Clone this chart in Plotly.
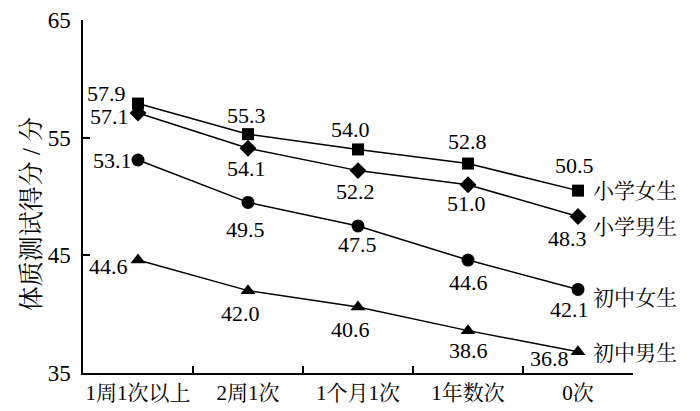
import plotly.graph_objects as go

categories = ["1周1次以上", "2周1次", "1个月1次", "1年数次", "0次"]
primary_girls = [57.9, 55.3, 54.0, 52.8, 50.5]
primary_boys = [57.1, 54.1, 52.2, 51.0, 48.3]
junior_girls = [53.1, 49.5, 47.5, 44.6, 42.1]
junior_boys = [44.6, 42.0, 40.6, 38.6, 36.8]
series_names = ["小学女生", "小学男生", "初中女生", "初中男生"]
y_ticks = [35, 45, 55, 65]
y_title = "体质测试得分 / 分"

FONT = "Liberation Serif, Tinos, Times New Roman, Noto Serif CJK SC, Noto Sans CJK SC, serif"

# label offsets in pixels (dx, dy; dy positive = down)
series = [
    (series_names[0], primary_girls, "square", 12,
     [(-32, -10), (-2, -19), (-8, -20), (-1, -22), (-4, -25)], 0),
    (series_names[1], primary_boys, "diamond", 13,
     [(-29, 4), (-2, 20), (-3, 21), (-2, 19), (-11, 22)], 10),
    (series_names[2], junior_girls, "circle", 13,
     [(-26, 0), (-3, 27), (-1, 19), (0, 22), (-9, 20)], 9),
    (series_names[3], junior_boys, "triangle-up", 13,
     [(-30, 6), (-8, 23), (-8, 22), (0, 20), (-29, 7)], 1),
]

fig = go.Figure()
annotations = []
for name, vals, sym, size, offs, name_dy in series:
    fig.add_trace(go.Scatter(
        x=categories, y=vals, mode="lines+markers",
        name=name,
        line=dict(color="black", width=1.5),
        marker=dict(symbol=sym, size=size, color="black"),
        cliponaxis=False,
        showlegend=False,
    ))
    for cat, v, (dx, dy) in zip(categories, vals, offs):
        annotations.append(dict(
            x=cat, y=v, xref="x", yref="y", text=f"{v:.1f}",
            showarrow=False, xanchor="center", yanchor="middle",
            xshift=dx, yshift=-dy,
            font=dict(family=FONT, size=22, color="black"),
        ))
    annotations.append(dict(
        x=categories[-1], y=vals[-1], xref="x", yref="y",
        text=name, showarrow=False, xanchor="left", yanchor="middle",
        xshift=13, yshift=-name_dy, font=dict(family=FONT, size=21, color="black"),
    ))

annotations.append(dict(
    x=-52 / 550, y=0.45, xref="paper", yref="paper", text=y_title,
    textangle=-90, showarrow=False, xanchor="center", yanchor="middle",
    font=dict(family=FONT, size=25, color="black"),
))

fig.update_layout(
    width=700, height=411,
    margin=dict(l=83, r=67, t=20, b=38, autoexpand=False),
    paper_bgcolor="white", plot_bgcolor="white",
    font=dict(family=FONT, size=20, color="black"),
    annotations=annotations,
)
fig.update_xaxes(
    type="category", range=[-0.5, 4.5], automargin=False, tickangle=0,
    showline=True, linecolor="black", linewidth=1.5,
    ticks="inside", tickson="boundaries", ticklen=7, tickcolor="black", tickwidth=1.5,
    showgrid=False, zeroline=False,
    tickfont=dict(family=FONT, size=21, color="black"),
)
fig.update_yaxes(
    range=[35, 65], tickvals=y_ticks, automargin=False,
    showline=True, linecolor="black", linewidth=1.5,
    ticks="inside", ticklen=7, tickcolor="black", tickwidth=1.5,
    ticklabelstandoff=6,
    showgrid=False, zeroline=False,
    tickfont=dict(family=FONT, size=23, color="black"),
)

fig.write_html("out.html", config={"displayModeBar": False},
               post_script="document.body.style.margin='0px';")
